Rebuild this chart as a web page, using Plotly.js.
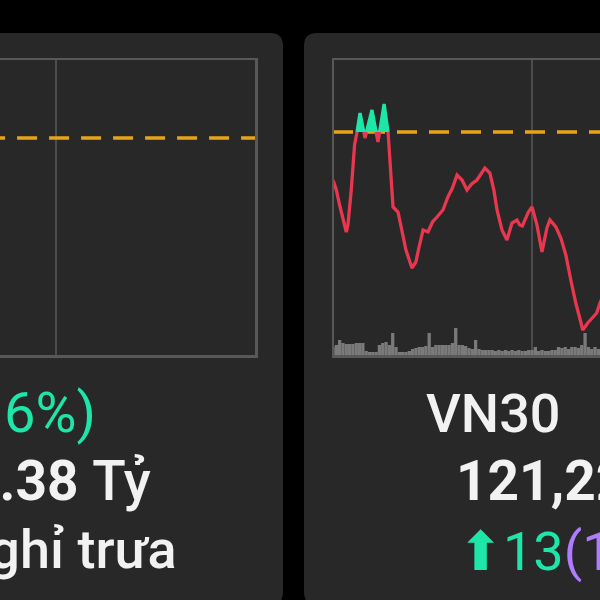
<!DOCTYPE html>
<html>
<head>
<meta charset="utf-8">
<script src="https://cdn.plot.ly/plotly-3.0.1.min.js"></script>
<style>
html,body{margin:0;padding:0;background:#000;overflow:hidden;}
#chart{width:600px;height:600px;}
</style>
</head>
<body>
<div id="chart"></div>
<script>
// ---- data ----
const sessionBounds = [0, 240];          // minutes of the trading session on the x axis
const sessionDivider = [120];            // vertical divider inside each chart
const leftRef = 1250.0;                  // reference level of the left index
const vn30Ref = 1330.0;                  // VN30 reference level
const vn30Times = [0,2,4,6,8,9,11,13,14.5,16.3,18.6,19.3,20.2,23.5,26,27.1,28.1,30.8,33.2,36.2,39.2,41,44,47.6,50,51.5,54.3,57.3,60,62.7,66.3,69.3,72,74.8,77.8,80.8,83.6,86.8,91.6,94.6,97,98.9,101.9,104.9,107.9,110.9,112.6,114.2,117.8,120,123,126,129,130.8,134.4,137.4,140.4,143.4,146.4,149.4,150.6,153.6,159,161,163];
const vn30Prices = [1325.2,1324.2,1322.7,1321.2,1320.0,1320.7,1324.2,1328.7,1330.0,1331.9,1330.0,1329.4,1330.0,1332.2,1330.0,1329.0,1330.0,1332.8,1330.0,1322.5,1322.0,1320.7,1318.2,1316.4,1317.0,1318.2,1320.2,1320.0,1321.0,1321.5,1322.2,1323.5,1324.4,1325.7,1325.2,1324.2,1324.8,1325.2,1326.4,1325.9,1324.2,1322.2,1320.2,1319.2,1320.9,1321.2,1320.7,1320.6,1322.0,1322.5,1320.7,1318.0,1320.4,1321.2,1320.5,1319.4,1317.7,1315.2,1312.9,1311.0,1310.2,1310.9,1311.9,1312.9,1313.7];
const volTimes = [0,2,4,6,8,10,12,14,16,18,20,22,24,26,28,30,32,34,36,38,40,42,44,46,48,50,52,54,56,58,60,62,64,66,68,70,72,74,76,78,80,82,84,86,88,90,92,94,96,98,100,102,104,106,108,110,112,114,116,118,120,122,124,126,128,130,132,134,136,138,140,142,144,146,148,150,152,154,156,158,160,162];
const volumes = [80,100,150,120,110,110,110,120,120,120,40,30,30,30,100,120,130,100,220,80,30,30,30,40,60,70,80,80,90,220,80,100,100,100,100,100,120,270,100,100,90,70,60,150,60,50,50,50,50,40,50,40,50,40,50,40,50,40,40,50,50,80,40,50,40,40,50,50,80,70,80,60,80,80,70,100,220,80,60,80,60,60];
const leftTexts = ["6%)", "5.38", "Tỷ", "Nghỉ trưa"];
const rightTexts = ["VN30", "121,22", "⬆13", "(1"];

// ---- styles ----
const RED = '#e9374f', GREEN = '#1ee6a8', ORANGE = '#e8a318', PURPLE = '#b07cff';
const GRID = '#4c4c4c', BORDER = '#585858';
const FONT = 'Roboto, "Noto Sans", sans-serif';

const px = v => v / 600;
const py = v => 1 - v / 600;
function rrect(x0, y0, x1, y1, r) {
  const P = (x, y) => px(x) + ',' + py(y);
  return 'M' + P(x0 + r, y0) + ' L' + P(x1 - r, y0) + ' Q' + P(x1, y0) + ' ' + P(x1, y0 + r) +
    ' L' + P(x1, y1 - r) + ' Q' + P(x1, y1) + ' ' + P(x1 - r, y1) +
    ' L' + P(x0 + r, y1) + ' Q' + P(x0, y1) + ' ' + P(x0, y1 - r) +
    ' L' + P(x0, y0 + r) + ' Q' + P(x0, y0) + ' ' + P(x0 + r, y0) + ' Z';
}

const refLine = vn30Times.map(() => vn30Ref);
const upper = vn30Prices.map(v => Math.max(v, vn30Ref));
const redPart = vn30Prices.map(v => v <= vn30Ref ? v : null);
const greenPart = vn30Prices.map(v => v >= vn30Ref ? v : null);

const traces = [
  {x: sessionBounds, y: [leftRef, leftRef], xaxis: 'x', yaxis: 'y', mode: 'lines',
   line: {color: ORANGE, width: 3.5, dash: '20px,12px'}, hoverinfo: 'skip'},
  {x: volTimes, y: volumes, type: 'bar', xaxis: 'x2', yaxis: 'y2', width: 2,
   marker: {color: '#7a7a7a', line: {width: 0}}, hoverinfo: 'skip'},
  {x: sessionBounds, y: [vn30Ref, vn30Ref], xaxis: 'x2', yaxis: 'y3', mode: 'lines',
   line: {color: ORANGE, width: 3.5, dash: '20px,12px'}, hoverinfo: 'skip'},
  {x: vn30Times, y: refLine, xaxis: 'x2', yaxis: 'y3', mode: 'lines', line: {width: 0}, hoverinfo: 'skip'},
  {x: vn30Times, y: upper, xaxis: 'x2', yaxis: 'y3', mode: 'lines', line: {width: 0},
   fill: 'tonexty', fillcolor: GREEN, hoverinfo: 'skip'},
  {x: vn30Times, y: redPart, xaxis: 'x2', yaxis: 'y3', mode: 'lines', connectgaps: false,
   line: {color: RED, width: 3.3}},
  {x: vn30Times, y: greenPart, xaxis: 'x2', yaxis: 'y3', mode: 'lines', connectgaps: false,
   line: {color: GREEN, width: 3.3}}
];

const yDom = [py(355), py(60)];
const baseX = {showticklabels: false, ticks: '', zeroline: false, showgrid: true, gridcolor: GRID, gridwidth: 2.5,
  tickvals: sessionDivider, showline: true, mirror: true, linecolor: BORDER, linewidth: 2.5, fixedrange: true};
const baseY = {showticklabels: false, ticks: '', zeroline: false, showgrid: false, showline: true,
  linecolor: BORDER, linewidth: 2.5, fixedrange: true};

function ann(text, x, y, anchor, color, size, weight) {
  return {text: text, xref: 'paper', yref: 'paper', x: px(x), y: py(y), xanchor: anchor, yanchor: 'middle',
    showarrow: false, font: {family: FONT, size: size, color: color, weight: weight}};
}
const med = t => '<span style="font-weight:500">' + t + '</span>';

const layout = {
  width: 600, height: 600,
  margin: {l: 0, r: 0, t: 0, b: 0},
  paper_bgcolor: '#000000', plot_bgcolor: '#1b1b1b',
  showlegend: false,
  xaxis: Object.assign({}, baseX, {domain: [0, px(255)], range: [86.2, 240], anchor: 'y'}),
  yaxis: Object.assign({}, baseY, {domain: yDom, range: [1228.3, 1257.8], anchor: 'x', side: 'right'}),
  xaxis2: Object.assign({}, baseX, {domain: [px(334), 1], range: [0.6, 161], anchor: 'y2'}),
  yaxis2: Object.assign({}, baseY, {domain: yDom, range: [0, 2950], anchor: 'x2', side: 'left'}),
  yaxis3: {overlaying: 'y2', anchor: 'x2', range: [1307.7, 1337.2], visible: false, fixedrange: true},
  shapes: [
    {type: 'path', xref: 'paper', yref: 'paper', layer: 'below', path: rrect(-200, 33, 283, 605, 13),
     fillcolor: '#282828', line: {width: 0}},
    {type: 'path', xref: 'paper', yref: 'paper', layer: 'below', path: rrect(304, 33, 800, 605, 13),
     fillcolor: '#282828', line: {width: 0}}
  ],
  annotations: [
    ann(leftTexts[0], 98, 413, 'right', GREEN, 56, 400),
    ann('<b>' + leftTexts[1] + '</b> ' + med(leftTexts[2]), 153, 481, 'right', '#f2f2f2', 55, 400),
    ann(leftTexts[3], 179, 549, 'right', '#f2f2f2', 54, 500),
    ann(rightTexts[0], 424, 413, 'left', '#f2f2f2', 54, 500),
    ann('<b>' + rightTexts[1] + '</b>', 454, 481, 'left', '#f2f2f2', 55, 400),
    ann('<span style="color:' + GREEN + '">' + rightTexts[2] + '</span><span style="color:' + PURPLE + '">' + rightTexts[3] + '</span>', 456, 551, 'left', GREEN, 54, 400)
  ]
};

Plotly.newPlot('chart', traces, layout, {displayModeBar: false, staticPlot: true});
</script>
</body>
</html>
